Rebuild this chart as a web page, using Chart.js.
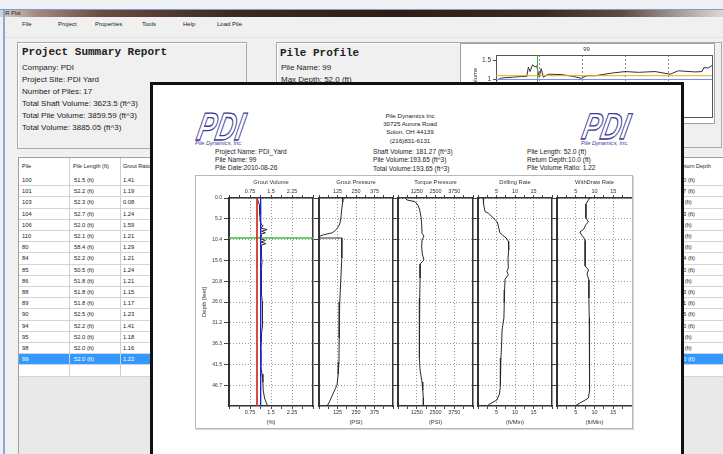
<!DOCTYPE html>
<html lang="en">
<head>
<meta charset="utf-8">
<title>IR Plot</title>
<script src="https://cdn.jsdelivr.net/npm/chart.js@4.4.1/dist/chart.umd.min.js"></script>
<style>
  body { margin:0; width:723px; height:454px; overflow:hidden; position:relative;
         background:#f0f0f0; font-family:'Liberation Sans', Arial, sans-serif; color:#222; }
  .abs { position:absolute; }
  .txt { position:absolute; white-space:nowrap; }
  .box { position:absolute; border:1px solid #a9a9a9; box-shadow:1px 1px 0 #fff inset; }
  .mono { font-family:'Liberation Mono', 'Courier New', monospace; font-weight:bold; font-size:11px; line-height:12px; }
  .sum { font-size:8px; line-height:12px; }
  .menu { font-size:6px; line-height:8px; top:20px; }
  .cell { position:absolute; top:0; font-size:5.8px; line-height:11px; white-space:nowrap; }
  .rep { font-size:6.6px; line-height:8.3px; }
  canvas { position:absolute; }
</style>
</head>
<body>

<!-- window chrome -->
<div class="abs" style="left:0;top:0;width:723px;height:9px;background:#eef0f3"></div>
<div class="abs" style="left:0;top:9px;width:723px;height:1px;background:#7d9dd0"></div>
<div class="abs" style="left:0;top:10px;width:723px;height:7px;
  background:linear-gradient(to right,#d9d2ce 0%,#a48b80 5%,#6a4c40 14%,#3c2a20 32%,#2c1e16 55%,#3a2a20 75%,#5e4a40 86%,#a79d98 94%,#dcd8d6 100%)"></div>
<div class="txt" style="left:4px;top:10px;font-size:5.5px;line-height:7px;color:#222">IR Plot</div>
<div class="abs" style="left:3px;top:10px;width:2px;height:444px;background:#8fa7d3"></div>
<div class="abs" style="left:5px;top:37px;width:718px;height:1px;background:#e2e2e2"></div>

<div class="txt menu" style="left:22px">File</div>
<div class="txt menu" style="left:58px">Project</div>
<div class="txt menu" style="left:95px">Properties</div>
<div class="txt menu" style="left:142px">Tools</div>
<div class="txt menu" style="left:183px">Help</div>
<div class="txt menu" style="left:217px">Load Pile</div>

<!-- project summary -->
<div class="box" style="left:17px;top:42px;width:228px;height:105px"></div>
<div class="txt mono" style="left:22px;top:46px">Project Summary Report</div>
<div class="txt sum" style="left:22px;top:62px">Company: PDI</div>
<div class="txt sum" style="left:22px;top:74px">Project Site: PDI Yard</div>
<div class="txt sum" style="left:22px;top:86px">Number of Piles: 17</div>
<div class="txt sum" style="left:22px;top:98px">Total Shaft Volume: 3623.5 (ft^3)</div>
<div class="txt sum" style="left:22px;top:110px">Total Pile Volume: 3859.59 (ft^3)</div>
<div class="txt sum" style="left:22px;top:122px">Total Volume: 3885.05 (ft^3)</div>

<!-- pile profile -->
<div class="box" style="left:276px;top:42px;width:444px;height:104px"></div>
<div class="txt mono" style="left:280px;top:47px">Pile Profile</div>
<div class="txt sum" style="left:281px;top:62px">Pile Name: 99</div>
<div class="txt sum" style="left:281px;top:74px">Max Depth: 52.0 (ft)</div>
<div class="abs" style="left:460px;top:43px;width:253px;height:79px;background:#fff;border:1px solid #a0a0a0"></div>
<canvas id="mini" width="253" height="79" style="left:460px;top:44px"></canvas>

<!-- pile table -->
<div id="table" class="abs" style="left:18px;top:157px;width:705px;height:297px;background:#e9e9e9;border-left:1px solid #a0a0a0;border-top:1px solid #a0a0a0"></div>

<!-- report popup -->
<div class="abs" style="left:150px;top:82px;width:534px;height:400px;background:#fff;border:3px solid #111;border-bottom:none;box-sizing:border-box"></div>

<svg class="abs" style="left:190px;top:104px" width="66" height="46">
  <text x="13" y="36" font-family="Liberation Sans" font-weight="bold" font-style="italic" font-size="39"
        fill="#fff" stroke="#3d3a94" stroke-width="1.3" textLength="46" lengthAdjust="spacingAndGlyphs"
        transform="skewX(-12)">PDI</text>
</svg>
<div class="txt" style="left:195px;top:140px;font-size:5.6px;line-height:7px;font-style:italic;color:#3d3a94">Pile Dynamics, Inc.</div>
<svg class="abs" style="left:575px;top:104px" width="66" height="46">
  <text x="13" y="35" font-family="Liberation Sans" font-weight="bold" font-style="italic" font-size="37"
        fill="#fff" stroke="#3d3a94" stroke-width="1.3" textLength="46" lengthAdjust="spacingAndGlyphs"
        transform="skewX(-12)">PDI</text>
</svg>
<div class="txt" style="left:581px;top:140px;font-size:5.6px;line-height:7px;font-style:italic;color:#3d3a94">Pile Dynamics, Inc.</div>

<div class="txt" style="left:350px;top:112px;width:120px;text-align:center;font-size:6.2px;line-height:8.2px">
  Pile Dynamics Inc<br>30725 Aurora Road<br>Solon, OH 44139<br>(216)831-6131</div>

<div class="txt rep" style="left:215px;top:147.5px">Project Name: PDI_Yard<br>Pile Name: 99<br>Pile Date:2010-08-26</div>
<div class="txt rep" style="left:373px;top:148px">Shaft Volume: 181.27 (ft^3)<br>Pile Volume:193.65 (ft^3)<br>Total Volume:193.65 (ft^3)</div>
<div class="txt rep" style="left:527px;top:147.5px">Pile Length: 52.0 (ft)<br>Return Depth:10.0 (ft)<br>Pile Volume Ratio: 1.22</div>

<div class="abs" style="left:195px;top:175px;width:436px;height:252px;border:1px solid #b8b8b8;box-shadow:1px 1px 0 #d8d8d8"></div>
<canvas id="p0" style="left:0;top:0"></canvas>
<canvas id="p1" style="left:0;top:0"></canvas>
<canvas id="p2" style="left:0;top:0"></canvas>
<canvas id="p3" style="left:0;top:0"></canvas>
<canvas id="p4" style="left:0;top:0"></canvas>

<script>
// ---- data ----
var pileNames    = ['100','101','103','104','106','110','80','84','85','86','88','89','90','94','95','98','99'];
var pileLengths  = ['51.5','52.2','52.3','52.7','52.0','52.1','58.4','52.2','50.5','51.8','51.8','51.8','52.5','52.2','52.0','52.0','52.0'];
var groutRatios  = ['1.41','1.19','0.08','1.24','1.59','1.21','1.29','1.21','1.24','1.21','1.15','1.17','1.23','1.41','1.18','1.16','1.22'];
var returnDepths = ['10.0','10.7','9.8','10.3','9.9','9.6','9.8','10.4','10.0','9.7','10.3','10.1','10.5','10.0','9.8','9.9','10.0'];
var selectedPile = '99';

var maxDepth = 52;
var returnDepth = 10.0;
var depthTicks = [0, 5.2, 10.4, 15.6, 20.8, 26.0, 31.2, 36.4, 41.6, 46.8];
var depthTickLabels = ['0.0','5.2','10.4','15.6','20.8','26.0','31.2','36.3','41.5','46.7'];

var panelTitles = ['Grout Volume','Grout Pressure','Torque Pressure','Drilling Rate','WithDraw Rate'];
var panelUnits  = ['(%)','(PSI)','(PSI)','(ft/Min)','(ft/Min)'];
var panelMax    = [3, 500, 5000, 20, 20];
var panelMajor  = [0.75, 125, 1250, 5, 5];
var panelMinor  = [0.375, 62.5, 625, 2.5, 2.5];

var lowerRatio = 1.0;    // red line
var upperRatio = 1.13;   // blue line

var gvDepth = [0, 1, 2, 3, 4, 5, 6, 6.5, 7, 7.5, 7.9, 8.3, 8.7, 9.1, 9.5, 9.9, 10.2, 10.6, 11, 11.4, 11.8, 12.5, 14, 16, 18, 20, 22, 24, 26, 28, 30, 32, 34, 36, 38, 40, 42, 44, 46, 48, 50, 51, 52];
var gvValue = [1.0, 1.05, 1.1, 1.09, 1.1, 1.11, 1.12, 1.15, 1.22, 1.12, 1.36, 1.16, 1.3, 1.12, 1.18, 1.1, 1.12, 1.3, 1.14, 1.32, 1.15, 1.16, 1.15, 1.18, 1.15, 1.16, 1.15, 1.17, 1.19, 1.2, 1.21, 1.18, 1.16, 1.15, 1.14, 1.13, 1.14, 1.18, 1.21, 1.22, 1.27, 1.32, 1.38];

var gpDepth = [0, 1, 3, 5, 6.5, 7.5, 8.2, 8.7, 9.2, 9.6, 10.0, 10.0, 12, 15, 20, 26, 30, 35, 41, 44, 46.7, 48.5, 50, 51, 52];
var gpValue = [162, 160, 153, 148, 140, 125, 108, 90, 30, 2, 2, 155, 155, 153, 148, 140, 137, 136, 135, 130, 122, 100, 82, 70, 54];

var tpDepth = [0, 0.5, 0.9, 1.8, 3, 4.7, 6.5, 8.8, 9.5, 10.5, 12, 14, 15.5, 16.5, 20, 25, 30, 35, 40, 43, 46, 48, 50, 52];
var tpValue = [470, 600, 1130, 1330, 1450, 1530, 1580, 1600, 1730, 1600, 1580, 1620, 1730, 1480, 1470, 1450, 1430, 1420, 1430, 1470, 1600, 1650, 1690, 1690];

var drDepth = [0, 1.5, 3.4, 3.8, 5.4, 6, 7, 8.7, 9.1, 10, 10.8, 13, 15, 17.5, 18.3, 19.2, 20.3, 23, 26, 30, 33, 36, 40, 44, 47, 49, 50.5, 51.7, 52];
var drValue = [1.4, 1.5, 1.9, 2.8, 4.6, 5.2, 5.5, 5.9, 6.4, 7.6, 8.2, 8.3, 8.1, 8.2, 7.8, 8.2, 7.3, 7.2, 7.1, 7.0, 6.5, 6.4, 6.2, 6.1, 6.0, 5.8, 5.1, 2.8, 2.6];

var wdDepth = [0, 0.6, 1.5, 5, 6, 6.6, 7.7, 8.5, 9.3, 10, 10.6, 14, 17, 18, 19, 20.5, 25, 30, 35, 40, 45, 48, 50, 51, 51.7, 52];
var wdValue = [8.8, 8.3, 7.7, 7.7, 8.4, 7.7, 7.2, 6.1, 6.6, 7.2, 7.5, 7.5, 7.5, 8.4, 8.0, 8.5, 8.5, 8.6, 8.6, 8.7, 8.7, 8.7, 8.4, 6.6, 5.3, 5.1];

var miniDepth = [0.2, 1.4, 4, 6.2, 7.4, 7.8, 8.2, 8.8, 9.4, 9.8, 10.4, 10.9, 11.4, 12.6, 15.8, 18.6, 20.5, 21.9, 23.9, 27.9, 31.1, 34.3, 38.3, 41.9, 43.9, 48, 49.6, 50, 51.2, 52];
var miniValue = [0.98, 1.04, 1.06, 1.08, 1.08, 1.33, 1.21, 1.39, 1.33, 1.36, 1.06, 1.29, 1.06, 1.14, 1.13, 1.08, 1.03, 1.1, 1.1, 1.17, 1.21, 1.19, 1.21, 1.14, 1.23, 1.2, 1.21, 1.31, 1.31, 1.37];
var miniTarget = 1.1;     // orange line
var miniBase = 1.0;       // blue line
var miniGrid = [0, 10.4, 20.8, 31.2, 41.6, 52];
var miniTicks = [0, 0.5, 1, 1.5];

Chart.defaults.font.family = "'Liberation Sans', Arial, sans-serif";
Chart.defaults.color = '#333';

// ---- pile table ----
(function () {
  var t = document.getElementById('table');
  var head = document.createElement('div');
  head.className = 'abs';
  head.style.cssText = 'left:0;top:0;width:705px;height:17px;background:#fff;border-bottom:1px solid #c8c8c8';
  [['Pile', 3], ['Pile Length (ft)', 54], ['Grout Ratio', 104], ['Return Depth', 659]].forEach(function (h) {
    var s = document.createElement('span');
    s.className = 'cell';
    s.style.cssText = 'left:' + h[1] + 'px;top:3px;font-size:5.5px';
    s.textContent = h[0];
    head.appendChild(s);
  });
  t.appendChild(head);
  var rowH = 11.2;
  for (var k = 0; k <= pileNames.length; k++) {
    var r = document.createElement('div');
    r.className = 'abs';
    var sel = pileNames[k] === selectedPile;
    r.style.cssText = 'left:0;top:' + (17 + k * rowH) + 'px;width:705px;height:' + (rowH - 1) + 'px;border-bottom:1px solid #d4d4d4;background:' + (sel ? '#3399ff' : '#fff') + ';color:' + (sel ? '#fff' : '#222');
    if (k < pileNames.length) {
      [[pileNames[k], 3], [pileLengths[k] + ' (ft)', 55], [groutRatios[k], 104], [returnDepths[k] + ' (ft)', 656]].forEach(function (c) {
        var s = document.createElement('span');
        s.className = 'cell';
        s.style.left = c[1] + 'px';
        s.textContent = c[0];
        r.appendChild(s);
      });
    }
    t.appendChild(r);
  }
  [50, 101].forEach(function (x) {
    var v = document.createElement('div');
    v.className = 'abs';
    v.style.cssText = 'left:' + x + 'px;top:0;width:1px;height:' + (17 + (pileNames.length + 1) * rowH) + 'px;background:#d0d0d0';
    t.appendChild(v);
  });
})();

// ---- report panels ----
function isMajor(v, major, max) {
  if (v <= 1e-9 || v >= max - 1e-9) return false;
  var r = v / major;
  return Math.abs(r - Math.round(r)) < 1e-6;
}

function xAxis(i, pos) {
  var max = panelMax[i], major = panelMajor[i], minor = panelMinor[i];
  return {
    type: 'linear', position: pos, min: 0, max: max,
    afterBuildTicks: function (s) {
      var t = [];
      for (var k = 0; k * minor <= max + 1e-9; k++) t.push({ value: k * minor });
      s.ticks = t;
    },
    afterFit: function (s) { s.height = 22; },
    ticks: {
      autoSkip: false, maxRotation: 0, padding: 0, font: { size: 5.5 }, color: '#333',
      callback: function (v) { return isMajor(v, major, max) ? String(+v.toFixed(3)) : ''; }
    },
    grid: {
      drawOnChartArea: pos === 'bottom', tickLength: 3, tickColor: '#444', tickWidth: 1, lineWidth: 1,
      color: function (c) { return c.tick && isMajor(c.tick.value, major, max) ? '#9a9a9a' : 'rgba(0,0,0,0)'; }
    },
    border: { color: '#333', width: 1.5, dash: [1, 2] },
    title: {
      display: true, text: pos === 'top' ? panelTitles[i] : panelUnits[i], font: { size: 5.8 }, color: '#333',
      padding: pos === 'top' ? { top: 2.5, bottom: 0 } : { top: 0, bottom: 2 }
    }
  };
}

function yAxis(i) {
  return {
    type: 'linear', position: 'left', reverse: true, min: 0, max: maxDepth,
    afterBuildTicks: function (s) { s.ticks = depthTicks.map(function (v) { return { value: v }; }); },
    afterFit: function (s) { s.width = i === 0 ? 31 : 5; },
    ticks: { display: i === 0, padding: 2, font: { size: 5 }, color: '#333',
      callback: function (v, k) { return depthTickLabels[k]; } },
    grid: { color: '#9a9a9a', tickLength: 5, tickColor: '#444', lineWidth: 1 },
    border: { color: '#333', width: 2, dash: [1, 2] },
    title: { display: i === 0, text: 'Depth [feet]', font: { size: 5.8 }, color: '#333', padding: { top: 3, bottom: 0 } }
  };
}

function profile(depth, value, color) {
  return {
    data: depth.map(function (d, k) { return { x: value[k], y: d }; }),
    borderColor: color || '#2a2a2a', borderWidth: 1, pointRadius: 0, tension: 0, fill: false
  };
}

var plotLeft  = [229, 319, 398, 478, 557];
var plotRight = [313, 393, 473, 552, 632];

var greenLine = profile([returnDepth, returnDepth], [0, panelMax[0]], '#3cb83c');
greenLine.borderWidth = 1.3;

var panelSeries = [
  [profile([0, maxDepth], [lowerRatio, lowerRatio], '#d33030'),
   profile([0, maxDepth], [upperRatio, upperRatio], '#2020e0'),
   greenLine,
   profile(gvDepth, gvValue)],
  [profile(gpDepth, gpValue)],
  [profile(tpDepth, tpValue)],
  [profile(drDepth, drValue)],
  [profile(wdDepth, wdValue)]
];

panelSeries.forEach(function (sets, i) {
  var yW = i === 0 ? 31 : 5, y2W = i < 4 ? 2 : 0;
  var cv = document.getElementById('p' + i);
  var w = yW + (plotRight[i] - plotLeft[i]) + y2W;
  cv.width = w; cv.height = 252;
  cv.style.left = (plotLeft[i] - yW) + 'px';
  cv.style.top = '176px';
  var scales = { x: xAxis(i, 'bottom'), x2: xAxis(i, 'top'), y: yAxis(i) };
  if (i < 4) {
    scales.y2 = { type: 'linear', position: 'right', reverse: true, min: 0, max: maxDepth,
      ticks: { display: false }, grid: { drawOnChartArea: false, drawTicks: false },
      border: { color: '#333', width: 1.5 }, afterFit: function (s) { s.width = 2; } };
  }
  new Chart(cv, {
    type: 'line',
    data: { datasets: sets },
    options: {
      responsive: false, animation: false,
      plugins: { legend: { display: false }, tooltip: { enabled: false } },
      layout: { padding: 0 },
      scales: scales
    }
  });
});

// ---- pile profile mini chart ----
new Chart(document.getElementById('mini'), {
  type: 'line',
  data: {
    datasets: [
      profile([0, maxDepth], [miniBase, miniBase], '#6a8ee8'),
      profile([0, maxDepth], [miniTarget, miniTarget], '#f0a030'),
      profile([returnDepth, returnDepth], [0, 1.65], '#3caa3c'),
      profile(miniDepth, miniValue, '#333')
    ].map(function (d) {
      // depth runs along x here
      d.data = d.data.map(function (p) { return { x: p.y, y: p.x }; });
      return d;
    })
  },
  options: {
    responsive: false, animation: false,
    plugins: {
      legend: { display: false }, tooltip: { enabled: false },
      title: { display: true, text: '99', font: { size: 6, weight: 'normal' }, color: '#333', padding: { top: 2, bottom: 1.8 } }
    },
    scales: {
      x: { type: 'linear', min: 0, max: maxDepth,
        afterBuildTicks: function (s) { s.ticks = miniGrid.map(function (v) { return { value: v }; }); },
        ticks: { display: false }, grid: { color: '#8a8a8a', drawTicks: false },
        border: { color: '#555', dash: [2, 2] }, afterFit: function (s) { s.height = 3; } },
      x2: { type: 'linear', position: 'top', min: 0, max: maxDepth, ticks: { display: false },
        grid: { drawOnChartArea: false, drawTicks: false }, border: { color: '#555' },
        afterFit: function (s) { s.height = 0; } },
      y: { type: 'linear', min: 0, max: 1.65,
        afterBuildTicks: function (s) { s.ticks = miniTicks.map(function (v) { return { value: v }; }); },
        ticks: { font: { size: 6.5 }, color: '#333', padding: 2, callback: function (v) { return String(v); } },
        grid: { drawOnChartArea: false, tickLength: 3, tickColor: '#555' }, border: { color: '#555' },
        title: { display: true, text: 'Grout Volume', font: { size: 6 }, color: '#333', padding: { top: 12, bottom: 0 } },
        afterFit: function (s) { s.width = 36; } },
      y2: { type: 'linear', position: 'right', min: 0, max: 1.65, ticks: { display: false },
        grid: { drawOnChartArea: false, drawTicks: false }, border: { color: '#555' },
        afterFit: function (s) { s.width = 1; } }
    }
  }
});
</script>
</body>
</html>
